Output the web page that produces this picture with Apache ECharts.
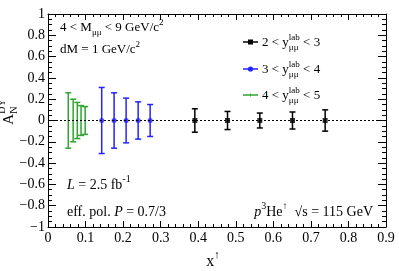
<!DOCTYPE html>
<html><head><meta charset="utf-8">
<script src="https://cdn.jsdelivr.net/npm/echarts@6/dist/echarts.min.js"></script>
<style>html,body{margin:0;padding:0;background:#fff}#c{width:399px;height:271px}</style>
</head><body><div id="c"></div>
<script>
// ---- data ----
const xGreen = [0.054, 0.067, 0.078, 0.088, 0.099];
const yGreen = [0, 0, 0, 0, 0];
const eGreen = [0.26, 0.20, 0.17, 0.14, 0.13];
const xBlue = [0.143, 0.176, 0.208, 0.240, 0.272];
const yBlue = [0, 0, 0, 0, 0];
const eBlue = [0.31, 0.26, 0.21, 0.175, 0.15];
const xBlack = [0.391, 0.478, 0.564, 0.651, 0.738];
const yBlack = [0, 0, 0, 0, 0];
const eBlack = [0.11, 0.085, 0.07, 0.08, 0.10];
const xTicks = [0, 0.1, 0.2, 0.3, 0.4, 0.5, 0.6, 0.7, 0.8, 0.9];
const yTicks = [-1, -0.8, -0.6, -0.4, -0.2, 0, 0.2, 0.4, 0.6, 0.8, 1];
const legendNames = [['2', '3'], ['3', '4'], ['4', '5']];

const GREEN = '#2ea52e', BLUE = '#2323ff', BLACK = '#000000';
const FF = '"Liberation Serif", "Times New Roman", serif';

const cv = document.createElement('canvas').getContext('2d');
function tw(t, sz, it) { cv.font = (it ? 'italic ' : '') + sz + 'px ' + FF; return cv.measureText(t).width; }

// compose text with super/subscripts; returns {children,width}
function compose(parts, base, x0, y0, color) {
  let x = x0; const ch = [];
  const small = Math.round(base * 0.68);
  for (const p of parts) {
    if (p.t !== undefined) {
      ch.push({type: 'text', x: x, y: y0, style: {text: p.t, font: (p.it ? 'italic ' : '') + base + 'px ' + FF, fill: color || '#000', align: 'left', verticalAlign: 'middle'}});
      x += tw(p.t, base, p.it);
    } else {
      let w = 0;
      if (p.sup) { ch.push({type: 'text', x: x, y: y0 - base * 0.42, style: {text: p.sup, font: small + 'px ' + FF, fill: color || '#000', align: 'left', verticalAlign: 'middle'}}); w = Math.max(w, tw(p.sup, small)); }
      if (p.sub) { ch.push({type: 'text', x: x, y: y0 + base * 0.36, style: {text: p.sub, font: small + 'px ' + FF, fill: color || '#000', align: 'left', verticalAlign: 'middle'}}); w = Math.max(w, tw(p.sub, small)); }
      x += w;
    }
  }
  return {children: ch, width: x - x0};
}

function errData(xs, ys, es) { return xs.map((v, i) => [v, ys[i], es[i]]); }
function errSeries(xs, ys, es, color) {
  return {
    type: 'custom', xAxisIndex: 0, yAxisIndex: 0, z: 3,
    data: errData(xs, ys, es), encode: {x: 0, y: 1},
    renderItem: function (params, api) {
      const x = api.value(0), y = api.value(1), e = api.value(2);
      const t = api.coord([x, y + e]), b = api.coord([x, y - e]);
      const st = {stroke: color, lineWidth: 1.5};
      return {type: 'group', children: [
        {type: 'line', shape: {x1: t[0], y1: t[1], x2: b[0], y2: b[1]}, style: st},
        {type: 'line', shape: {x1: t[0] - 3, y1: t[1], x2: t[0] + 3, y2: t[1]}, style: st},
        {type: 'line', shape: {x1: b[0] - 3, y1: b[1], x2: b[0] + 3, y2: b[1]}, style: st}
      ]};
    }
  };
}
function ptSeries(xs, ys, color, symbol, size) {
  return {type: 'scatter', xAxisIndex: 0, yAxisIndex: 0, z: 4, symbol: symbol, symbolSize: size,
    itemStyle: {color: color}, data: xs.map((v, i) => [v, ys[i]])};
}

const fmt = v => { const s = (+v.toFixed(1)).toString(); return s.replace('-', '\u2212'); };
const axX = (pos, show) => ({
  type: 'value', position: pos, min: xTicks[0], max: xTicks[xTicks.length - 1], interval: 0.1,
  axisLine: {show: true, onZero: false, lineStyle: {color: '#000', width: 1}},
  axisTick: {show: true, inside: true, length: 6, lineStyle: {color: '#000'}},
  minorTick: {show: true, splitNumber: 5, length: 3, lineStyle: {color: '#000'}},
  axisLabel: {show: show, color: '#000', fontFamily: FF, fontSize: 14, margin: 4, formatter: fmt},
  splitLine: {show: false}
});
const axY = (pos, show) => ({
  type: 'value', position: pos, min: yTicks[0], max: yTicks[yTicks.length - 1], interval: 0.2,
  axisLine: {show: true, onZero: false, lineStyle: {color: '#000', width: 1}},
  axisTick: {show: true, inside: true, length: 8, lineStyle: {color: '#000'}},
  minorTick: {show: true, splitNumber: 4, length: 4, lineStyle: {color: '#000'}},
  axisLabel: {show: show, color: '#000', fontFamily: FF, fontSize: 14, margin: 3, formatter: fmt},
  splitLine: {show: false}
});

// ---- annotations ----
const gfx = [];
function addText(parts, base, x, y, align) {
  const r = compose(parts, base, 0, 0);
  const ox = align === 'right' ? x - r.width : x;
  gfx.push({type: 'group', x: ox, y: y, children: r.children, silent: true});
}
addText([{t: '4 < M'}, {sub: '\u03bc\u03bc'}, {t: ' < 9 GeV/c'}, {sup: '2'}], 13, 60, 28);
addText([{t: 'dM = 1 GeV/c'}, {sup: '2'}], 13, 60, 50);
addText([{t: 'L', it: true}, {t: ' = 2.5 fb'}, {sup: '-1'}], 14, 67, 185);
addText([{t: 'eff. pol. '}, {t: 'P', it: true}, {t: ' = 0.7/3'}], 14, 67, 212);
addText([{t: 'p', it: true}, {sup: '3'}, {t: 'He'}, {sup: '\u2191'}, {t: '  \u221as = 115 GeV'}], 14, 373, 212, 'right');

// legend
const legCols = [[BLACK, 'rect'], [BLUE, 'circle'], [GREEN, 'plus']];
const legY = [42, 69, 95];
legendNames.forEach((n, i) => {
  const y = legY[i], c = legCols[i][0], k = legCols[i][1];
  const ch = [{type: 'line', shape: {x1: 243, y1: y, x2: 258, y2: y}, style: {stroke: c, lineWidth: 1.5}}];
  if (k === 'rect') ch.push({type: 'rect', shape: {x: 248, y: y - 2.5, width: 5, height: 5}, style: {fill: c}});
  else if (k === 'circle') ch.push({type: 'circle', shape: {cx: 250.5, cy: y, r: 2.6}, style: {fill: c}});
  else ch.push({type: 'line', shape: {x1: 250.5, y1: y - 1.5, x2: 250.5, y2: y + 1.5}, style: {stroke: c, lineWidth: 1}});
  gfx.push({type: 'group', children: ch, silent: true});
  addText([{t: n[0] + ' < y'}, {sup: 'lab', sub: '\u03bc\u03bc'}, {t: ' < ' + n[1]}], 13, 262, y + 1);
});

// axis titles
(function () {
  const r = compose([{t: 'A'}, {sup: 'DY', sub: 'N'}], 15, 0, 0);
  gfx.push({type: 'group', x: 9, y: 112 + r.width / 2, rotation: Math.PI / 2, children: r.children, silent: true});
  const r2 = compose([{t: 'x'}, {sup: '\u2191'}], 16, 0, 0);
  gfx.push({type: 'group', x: 213 - r2.width / 2, y: 262, children: r2.children, silent: true});
})();

const chart = echarts.init(document.getElementById('c'), null, {renderer: 'canvas'});
chart.setOption({
  animation: false,
  backgroundColor: '#fff',
  grid: {left: 48, right: 13, top: 14, bottom: 44, containLabel: false},
  xAxis: [axX('bottom', true), axX('top', false)],
  yAxis: [axY('left', true), axY('right', false)],
  series: [
    {type: 'line', xAxisIndex: 0, yAxisIndex: 0, data: [], z: 2,
      markLine: {silent: true, symbol: 'none', label: {show: false},
        lineStyle: {color: '#000', width: 1, type: [2, 2]}, data: [{yAxis: 0}]}},
    errSeries(xGreen, yGreen, eGreen, GREEN),
    errSeries(xBlue, yBlue, eBlue, BLUE),
    errSeries(xBlack, yBlack, eBlack, BLACK),
    ptSeries(xBlue, yBlue, BLUE, 'circle', 5),
    ptSeries(xBlack, yBlack, BLACK, 'rect', 5)
  ],
  graphic: gfx
});
</script></body></html>
